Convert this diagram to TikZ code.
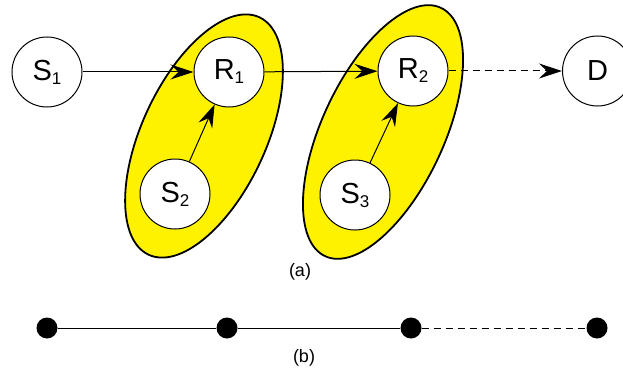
\documentclass[tikz,border=0pt]{standalone}
\usepackage{fontspec}
\setmainfont{Liberation Sans}
\usetikzlibrary{arrows.meta}
\newcommand{\lbl}[2]{#1\raisebox{-4pt}{\fontsize{17}{17}\selectfont #2}}
\begin{document}
\begin{tikzpicture}[x=1pt,y=-1pt,
  nd/.style={circle,draw,line width=1pt,fill=white,minimum size=70pt,inner sep=0pt,font=\fontsize{29}{30}\selectfont},
  grp/.style={draw,line width=1.8pt,fill=yellow},
  arr/.style={line width=1pt,-{Stealth[length=23pt,width=15pt,inset=8pt]}},
  dotnode/.style={circle,fill=black,inner sep=0pt,minimum width=19pt,minimum height=21pt},
  lnk/.style={line width=1pt},
  captxt/.style={font=\fontsize{18}{20}\selectfont}]
\useasboundingbox (0,0) rectangle (623,385);
\fill[white] (0,0) rectangle (623,385);
\draw[grp] (204,136) ellipse [x radius=131pt, y radius=62pt, rotate=65];
\draw[grp] (383,132) ellipse [x radius=137pt, y radius=61pt, rotate=65];
\node[nd] (s1) at (47,72) {\lbl{S}{1}};
\node[nd] (r1) at (229,72) {\lbl{R}{1}};
\node[nd] (r2) at (413,71) {\lbl{R}{2}};
\node[nd] (d) at (597.5,71) {D};
\node[nd] (s2) at (175,194) {\lbl{S}{2}};
\node[nd] (s3) at (355,195) {\lbl{S}{3}};
\draw[arr] (s1) -- (r1);
\draw[arr] (r1) -- (r2);
\draw[arr,dashed,dash pattern=on 7pt off 5pt] (r2) -- (d);
\draw[arr] (s2) -- (r1);
\draw[arr] (s3) -- (r2);
\node[captxt] (la) at (300,272) {(a)};
\node[dotnode] (b1) at (47,328) {};
\node[dotnode] (b2) at (227,328) {};
\node[dotnode] (b3) at (411,328) {};
\node[dotnode] (b4) at (597,328) {};
\draw[lnk] (b1) -- (b2) -- (b3);
\draw[lnk,dashed,dash pattern=on 7pt off 5pt] (b3) -- (b4);
\node[captxt] (lb) at (304,358) {(b)};
\end{tikzpicture}
\end{document}
